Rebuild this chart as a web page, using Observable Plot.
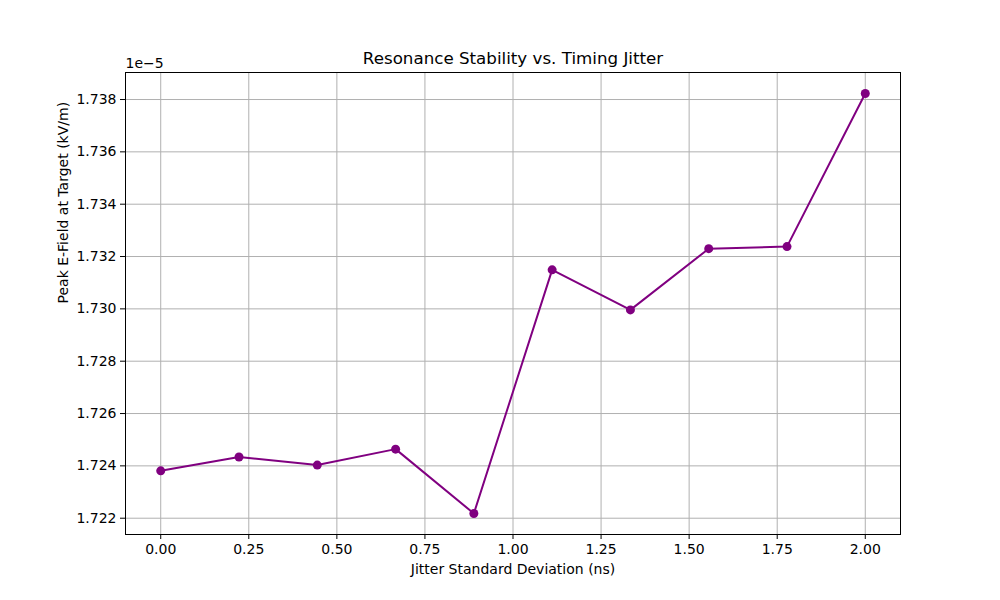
<!DOCTYPE html>
<html>
<head>
<meta charset="utf-8">
<script src="https://cdn.jsdelivr.net/npm/d3@7"></script>
<script src="https://cdn.jsdelivr.net/npm/@observablehq/plot@0.6"></script>
<style>
  html, body { margin: 0; padding: 0; background: #fff; }
  #chart { width: 1000px; height: 600px; }
</style>
</head>
<body>
<div id="chart"></div>
<script>
// Data (peak E-field values in units of 1e-5 kV/m)
const jitterNs = [0, 0.2222, 0.4444, 0.6667, 0.8889, 1.1111, 1.3333, 1.5556, 1.7778, 2.0];
const peakField = [1.72381, 1.72434, 1.72403, 1.72464, 1.72218, 1.73149, 1.72996, 1.73230, 1.73238, 1.73823];
const xTicks = [0, 0.25, 0.5, 0.75, 1.0, 1.25, 1.5, 1.75, 2.0];
const yTicks = [1.722, 1.724, 1.726, 1.728, 1.730, 1.732, 1.734, 1.736, 1.738];
const titleText = "Resonance Stability vs. Timing Jitter";
const xLabel = "Jitter Standard Deviation (ns)";
const yLabel = "Peak E-Field at Target (kV/m)";
const offsetText = "1e\u22125";

const data = jitterNs.map((x, i) => ({x, y: peakField[i]}));

const pad = (lo, hi) => [lo - 0.05 * (hi - lo), hi + 0.05 * (hi - lo)];
const xDomain = pad(d3.min(jitterNs), d3.max(jitterNs));
const yDomain = pad(d3.min(peakField), d3.max(peakField));

const font = "DejaVu Sans, sans-serif";

const chart = Plot.plot({
  width: 1000,
  height: 600,
  marginLeft: 125,
  marginRight: 100,
  marginTop: 72,
  marginBottom: 66,
  style: {fontFamily: font, fontSize: "14px", color: "black", background: "white"},
  x: {domain: xDomain},
  y: {domain: yDomain},
  marks: [
    Plot.gridX(xTicks, {stroke: "#b0b0b0", strokeOpacity: 1, strokeWidth: 1}),
    Plot.gridY(yTicks, {stroke: "#b0b0b0", strokeOpacity: 1, strokeWidth: 1}),
    Plot.axisX(xTicks, {tickSize: 5, tickPadding: 5, tickFormat: d => d.toFixed(2), label: null, fontSize: 14, stroke: "black"}),
    Plot.axisY(yTicks, {tickSize: 5, tickPadding: 4, tickFormat: d => d.toFixed(3), label: null, fontSize: 14, stroke: "black"}),
    Plot.line(data, {x: "x", y: "y", stroke: "#800080", strokeWidth: 2}),
    Plot.dot(data, {x: "x", y: "y", r: 4.5, fill: "#800080", stroke: "none"}),
    Plot.frame({stroke: "black", strokeWidth: 1}),
    Plot.text([titleText], {frameAnchor: "top", lineAnchor: "middle", dy: -14, fontSize: 16.7, fill: "black"}),
    Plot.text([offsetText], {frameAnchor: "top-left", lineAnchor: "middle", dy: -9, textAnchor: "start", fontSize: 14, fill: "black"}),
    Plot.text([xLabel], {frameAnchor: "bottom", lineAnchor: "middle", dy: 35, fontSize: 14, fill: "black"}),
    Plot.text([yLabel], {frameAnchor: "left", dx: -62, rotate: -90, fontSize: 14, fill: "black"})
  ]
});

document.getElementById("chart").appendChild(chart);
</script>
</body>
</html>
